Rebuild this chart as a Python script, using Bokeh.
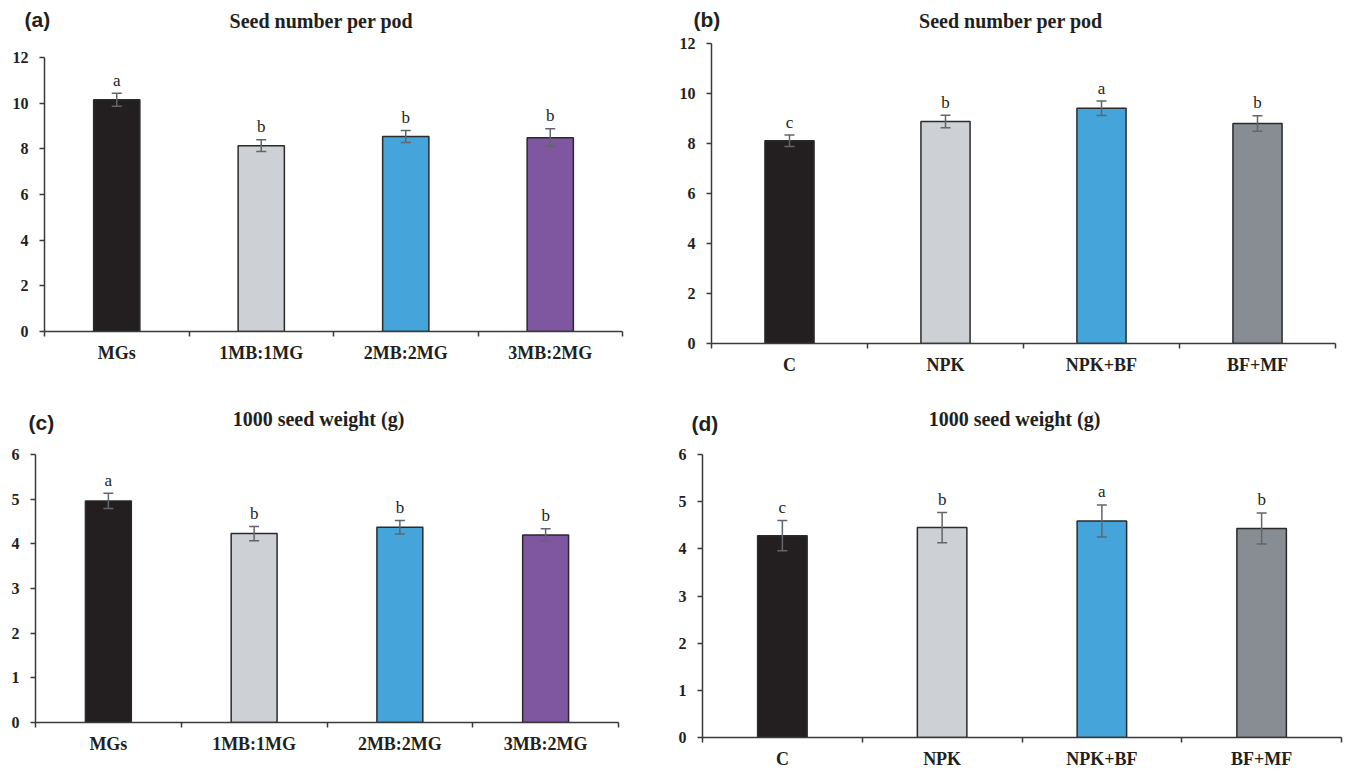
from bokeh.plotting import figure
from bokeh.models import Range1d, FixedTicker, Whisker, TeeHead, ColumnDataSource
from bokeh.layouts import column, row
from bokeh.core.properties import value
from bokeh.embed import file_html
from bokeh.resources import INLINE

# ---- data ----
cats_mix = ["MGs", "1MB:1MG", "2MB:2MG", "3MB:2MG"]
cats_fert = ["C", "NPK", "NPK+BF", "BF+MF"]

seed_mix = [10.15, 8.14, 8.54, 8.49]
seed_mix_err = [0.28, 0.26, 0.26, 0.39]
seed_mix_letters = ["a", "b", "b", "b"]

seed_fert = [8.11, 8.88, 9.41, 8.80]
seed_fert_err = [0.23, 0.25, 0.29, 0.31]
seed_fert_letters = ["c", "b", "a", "b"]

wt_mix = [4.96, 4.23, 4.37, 4.20]
wt_mix_err = [0.17, 0.16, 0.15, 0.14]
wt_mix_letters = ["a", "b", "b", "b"]

wt_fert = [4.28, 4.45, 4.59, 4.43]
wt_fert_err = [0.32, 0.32, 0.34, 0.33]
wt_fert_letters = ["c", "b", "a", "b"]

seed_ticks = [0, 2, 4, 6, 8, 10, 12]
wt_ticks = [0, 1, 2, 3, 4, 5, 6]

titles = ["Seed number per pod", "Seed number per pod",
          "1000 seed weight (g)", "1000 seed weight (g)"]
tags = ["(a)", "(b)", "(c)", "(d)"]

colors_mix = ["#231f20", "#cdd0d4", "#45a5da", "#7f56a0"]
colors_fert = ["#231f20", "#cdd0d4", "#45a5da", "#878d93"]

INK = "#231f20"
AXIS = "#3a3a3a"
ERR = "#62666a"
SERIF = "Liberation Serif"


def header(W, h, title, tag, tag_x, tag_y, title_x, title_y):
    """Blank strip above a chart holding the panel tag and title (pixel-space ranges)."""
    p = figure(width=W, height=h, x_range=Range1d(0, W), y_range=Range1d(0, h),
               x_axis_type=None, y_axis_type=None, output_backend="svg",
               toolbar_location=None, min_border=0)
    p.outline_line_color = None
    p.xgrid.visible = False
    p.ygrid.visible = False
    p.text(x=[tag_x], y=[h - tag_y], text=[tag], text_align="left",
           text_baseline="middle", text_font=value("Liberation Sans"),
           text_font_style="bold", text_font_size="21px", text_color=INK)
    p.text(x=[title_x], y=[h - title_y], text=[title], text_align="center",
           text_baseline="middle", text_font=value(SERIF),
           text_font_style="bold", text_font_size="20px", text_color=INK)
    return p


def chart(cats, vals, errs, letters, colors, yticks, W, H, bl, br, bt, bb, bar_w):
    p = figure(width=W, height=H, x_range=Range1d(0, len(cats)),
               y_range=Range1d(0, yticks[-1]), output_backend="svg",
               toolbar_location=None, min_border_left=bl, min_border_right=br,
               min_border_top=bt, min_border_bottom=bb)
    p.outline_line_color = None
    p.xgrid.visible = False
    p.ygrid.visible = False

    xs = [i + 0.5 for i in range(len(cats))]
    src = ColumnDataSource(dict(
        x=xs, top=vals,
        upper=[v + e for v, e in zip(vals, errs)],
        lower=[v - e for v, e in zip(vals, errs)],
        color=colors, letter=letters))

    p.vbar(x="x", top="top", width=bar_w, bottom=0, fill_color="color",
           line_color="#2a2a2a", line_width=1.5, source=src)

    wh = Whisker(base="x", upper="upper", lower="lower", source=src,
                 line_color=ERR, line_width=1.5,
                 upper_head=TeeHead(size=10, line_color=ERR, line_width=1.5),
                 lower_head=TeeHead(size=10, line_color=ERR, line_width=1.5))
    wh.level = "annotation"
    p.add_layout(wh)

    p.text(x="x", y="upper", text="letter", source=src, text_align="center",
           text_baseline="alphabetic", y_offset=-13, text_font=value(SERIF),
           text_font_size="17px", text_color=INK)

    xa = p.xaxis[0]
    xa.ticker = FixedTicker(ticks=xs, minor_ticks=list(range(len(cats) + 1)))
    xa.major_label_overrides = {x: c for x, c in zip(xs, cats)}
    xa.major_tick_line_color = None
    xa.major_tick_out = 0
    xa.major_tick_in = 0
    xa.minor_tick_out = 5
    xa.minor_tick_in = 0
    xa.minor_tick_line_color = AXIS
    xa.minor_tick_line_width = 1.5
    xa.axis_line_color = AXIS
    xa.axis_line_width = 1.5
    xa.major_label_standoff = 6
    xa.major_label_text_font = SERIF
    xa.major_label_text_font_style = "bold"
    xa.major_label_text_font_size = "18px"
    xa.major_label_text_color = INK

    ya = p.yaxis[0]
    ya.ticker = FixedTicker(ticks=yticks, minor_ticks=[])
    ya.major_tick_out = 5
    ya.major_tick_in = 0
    ya.major_tick_line_color = AXIS
    ya.major_tick_line_width = 1.5
    ya.minor_tick_line_color = None
    ya.axis_line_color = AXIS
    ya.axis_line_width = 1.5
    ya.major_label_standoff = 11
    ya.major_label_text_font = SERIF
    ya.major_label_text_font_style = "bold"
    ya.major_label_text_font_size = "16px"
    ya.major_label_text_color = INK
    return p


ha = header(670, 40, titles[0], tags[0], 24, 19, 321, 20.7)
ca = chart(cats_mix, seed_mix, seed_mix_err, seed_mix_letters, colors_mix, seed_ticks,
           670, 345, 44, 48, 17, 54, 0.32)
hb = header(678, 33, titles[1], tags[1], 23, 19, 340.5, 20.7)
cb = chart(cats_fert, seed_fert, seed_fert_err, seed_fert_letters, colors_fert, seed_ticks,
           678, 352, 41, 13, 10, 42, 0.315)
hc = header(670, 50, titles[2], tags[2], 28, 36.7, 318, 33)
cc = chart(cats_mix, wt_mix, wt_mix_err, wt_mix_letters, colors_mix, wt_ticks,
           670, 336, 35, 52, 19, 49, 0.315)
hd = header(678, 50, titles[3], tags[3], 21, 38, 344, 33)
cd = chart(cats_fert, wt_fert, wt_fert_err, wt_fert_letters, colors_fert, wt_ticks,
           678, 336, 32, 7, 19, 33, 0.31)


def stack(h, c):
    # wrap each plot on its own so Bokeh does not align their frames
    return column(row(h, spacing=0), row(c, spacing=0), spacing=0)


layout = column(
    row(stack(ha, ca), stack(hb, cb), spacing=0),
    row(stack(hc, cc), stack(hd, cd), spacing=0),
    spacing=0)

with open("out.html", "w") as f:
    f.write(file_html(layout, INLINE))
